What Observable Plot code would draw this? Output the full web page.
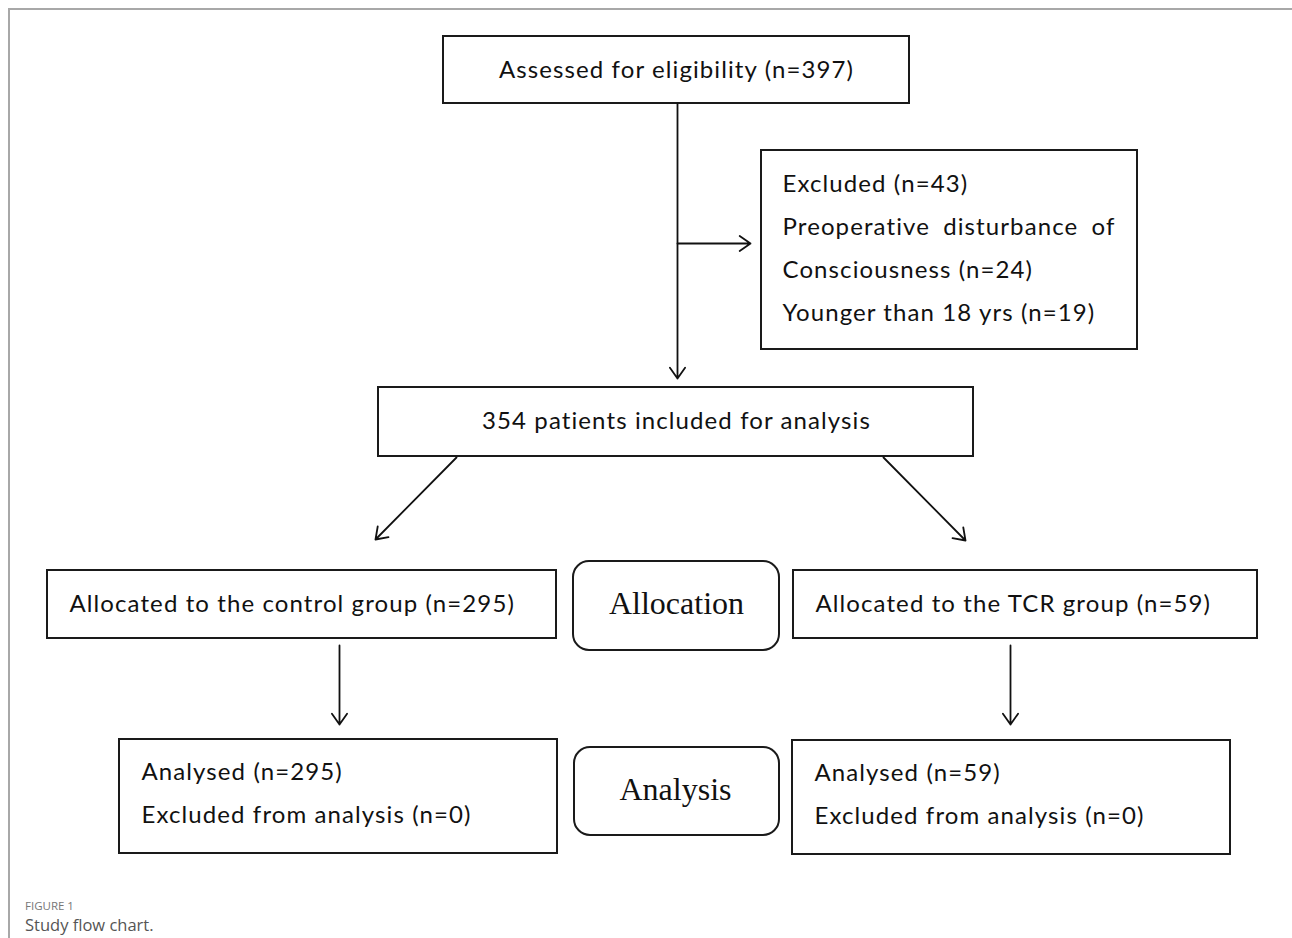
<!DOCTYPE html>
<html>
<head>
<meta charset="utf-8">
<script src="https://cdn.jsdelivr.net/npm/d3@7"></script>
<script src="https://cdn.jsdelivr.net/npm/@observablehq/plot@0.6"></script>
<style>
  html, body { margin: 0; padding: 0; background: #fff; }
  #frame { position: absolute; left: 8px; top: 8px; width: 1290px; height: 935px;
           border-top: 2px solid #a8a8a8; border-left: 2px solid #a8a8a8; pointer-events: none; }
  #chart { position: absolute; left: 0; top: 0; }
  #caption { position: absolute; left: 25px; top: 898px; font-family: "Open Sans", sans-serif; color: #666; }
  #caption .fig { font-size: 11.5px; line-height: 15px; height: 15px; color: #777; }
  #caption .title { font-size: 16.5px; line-height: 23px; height: 23px; color: #555; }
  .body-text text { letter-spacing: 1.1px; }
</style>
</head>
<body>
<div id="frame"></div>
<div id="chart"></div>
<div id="caption"><div class="fig">FIGURE 1</div><div class="title">Study flow chart.</div></div>
<script>
// ---- data (counts and labels) ----
const assessed = 397;
const excludedTotal = 43;
const excludedReasons = ["Preoperative disturbance of Consciousness", "Younger than 18 yrs"];
const excludedCounts = [24, 19];
const included = 354;
const groups = ["control", "TCR"];
const allocatedCounts = [295, 59];
const analysedCounts = [295, 59];
const excludedFromAnalysis = [0, 0];
const stageLabels = ["Allocation", "Analysis"];

// ---- layout (positions in page pixels) ----
const layout = {
  assessed: {x1: 443, x2: 909, y1: 36, y2: 103},
  excluded: {x1: 761, x2: 1137, y1: 150, y2: 349},
  included: {x1: 378, x2: 973, y1: 387, y2: 456},
  alloc: [{x1: 47, x2: 556, y1: 570, y2: 638}, {x1: 793, x2: 1257, y1: 570, y2: 638}],
  analysed: [{x1: 119, x2: 557, y1: 739, y2: 853}, {x1: 792, x2: 1230, y1: 740, y2: 854}],
  stages: [{x1: 573, x2: 779, y1: 561, y2: 650}, {x1: 574, x2: 779, y1: 747, y2: 835}]
};

const boxes = [layout.assessed, layout.excluded, layout.included, ...layout.alloc, ...layout.analysed];
const rounded = layout.stages;

const centeredTexts = [
  {x: 676, y: 70, t: `Assessed for eligibility (n=${assessed})`},
  {x: 676, y: 421, t: `${included} patients included for analysis`}
];
const leftTexts = [
  {x: 782, y: 184, t: `Excluded (n=${excludedTotal})`},
  {x: 782, y: 227, t: "Preoperative disturbance of"},
  {x: 782, y: 270, t: `Consciousness (n=${excludedCounts[0]})`},
  {x: 782, y: 313, t: `${excludedReasons[1]} (n=${excludedCounts[1]})`},
  {x: 69, y: 604, t: `Allocated to the ${groups[0]} group (n=${allocatedCounts[0]})`},
  {x: 815, y: 604, t: `Allocated to the ${groups[1]} group (n=${allocatedCounts[1]})`},
  {x: 141, y: 772, t: `Analysed (n=${analysedCounts[0]})`},
  {x: 141, y: 815, t: `Excluded from analysis (n=${excludedFromAnalysis[0]})`},
  {x: 814, y: 773, t: `Analysed (n=${analysedCounts[1]})`},
  {x: 814, y: 816, t: `Excluded from analysis (n=${excludedFromAnalysis[1]})`}
];
const justifyLine = {text: "Preoperative disturbance of", width: 333};

const stageTexts = [
  {x: 676, y: 603, t: stageLabels[0]},
  {x: 675, y: 789, t: stageLabels[1]}
];

const arrows = [
  {x1: 677, y1: 103, x2: 677, y2: 378},
  {x1: 677, y1: 243, x2: 750, y2: 243},
  {x1: 456, y1: 457, x2: 375, y2: 539},
  {x1: 883, y1: 457, x2: 965, y2: 540},
  {x1: 339, y1: 645, x2: 339, y2: 724},
  {x1: 1010, y1: 645, x2: 1010, y2: 724}
];

const W = 1292, H = 896;
const textStyle = {fontSize: 24, fontFamily: "Lato", fill: "#111", className: "body-text"};
const chart = Plot.plot({
  width: W, height: H,
  margin: 0,
  x: {domain: [0, W], range: [0, W], axis: null},
  y: {domain: [0, H], range: [0, H], axis: null},
  style: {background: "transparent"},
  marks: [
    Plot.rect(boxes, {x1: "x1", x2: "x2", y1: "y1", y2: "y2", fill: "white", stroke: "#1a1a1a", strokeWidth: 2}),
    Plot.rect(rounded, {x1: "x1", x2: "x2", y1: "y1", y2: "y2", fill: "white", stroke: "#1a1a1a", strokeWidth: 2, rx: 16}),
    Plot.arrow(arrows, {x1: "x1", y1: "y1", x2: "x2", y2: "y2", stroke: "#111", strokeWidth: 1.8, headLength: 11, headAngle: 70, inset: 0}),
    Plot.text(centeredTexts, {x: "x", y: "y", text: "t", textAnchor: "middle", ...textStyle}),
    Plot.text(leftTexts, {x: "x", y: "y", text: "t", textAnchor: "start", ...textStyle}),
    Plot.text(stageTexts, {x: "x", y: "y", text: "t", textAnchor: "middle", fontSize: 32, fontFamily: "Liberation Serif", fill: "#111"})
  ]
});
document.getElementById("chart").appendChild(chart);

// justify the wrapped line to the box width like the original
d3.select(chart).selectAll("text").each(function() {
  if (this.textContent === justifyLine.text) {
    const w = this.getComputedTextLength();
    const gaps = justifyLine.text.split(" ").length - 1;
    const extra = (justifyLine.width - w) / gaps;
    if (extra > 0) this.style.wordSpacing = extra.toFixed(1) + "px";
  }
});
</script>
</body>
</html>
